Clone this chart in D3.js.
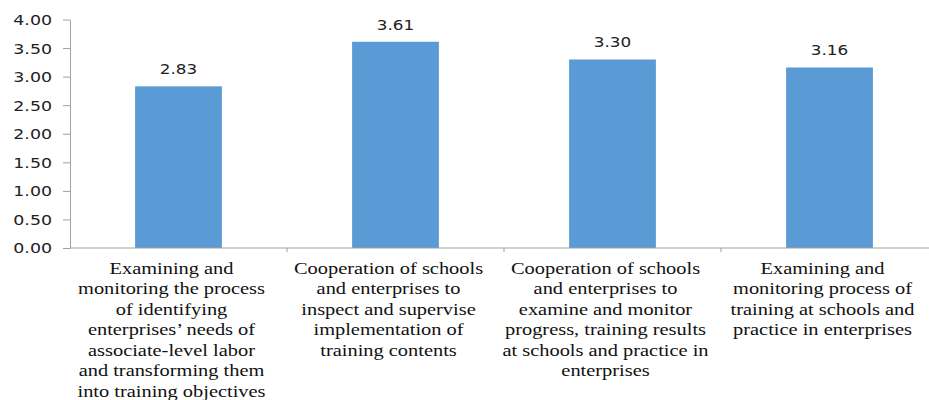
<!DOCTYPE html>
<html>
<head>
<meta charset="utf-8">
<script src="https://cdn.jsdelivr.net/npm/d3@7"></script>
<style>
  html, body { margin: 0; padding: 0; background: #fff; }
  svg { display: block; }
</style>
</head>
<body>
<div id="chart"></div>
<script>
const categories = ["C1", "C2", "C3", "C4"];
const categoryLabels = [
  ["Examining and", "monitoring the process", "of identifying", "enterprises\u2019 needs of", "associate-level labor", "and transforming them", "into training objectives"],
  ["Cooperation of schools", "and enterprises to", "inspect and supervise", "implementation of", "training contents"],
  ["Cooperation of schools", "and enterprises to", "examine and monitor", "progress, training results", "at schools and practice in", "enterprises"],
  ["Examining and", "monitoring process of", "training at schools and", "practice in enterprises"]
];
const values = [2.83, 3.61, 3.30, 3.16];
const yTicks = [0, 0.5, 1, 1.5, 2, 2.5, 3, 3.5, 4];

const W = 929, H = 400;
const stretch = 1.2;
const svg = d3.select("#chart").append("svg").attr("width", W).attr("height", H);

const x = d3.scaleBand().domain(categories).range([70, 938]).padding(0);
const y = d3.scaleLinear().domain([0, 4]).range([248, 19.5]);

const axisColor = "#a0a0a0";

// Bars
const bw = x.bandwidth() * 0.4;
svg.append("g").selectAll("rect").data(values).join("rect")
  .attr("x", (d, i) => x(categories[i]) + x.bandwidth() / 2 - bw / 2)
  .attr("y", d => y(d))
  .attr("width", bw)
  .attr("height", d => y(0) - y(d))
  .attr("fill", "#5B9BD5");

// Value labels
svg.append("g").selectAll("g").data(values).join("g")
  .attr("transform", (d, i) => `translate(${x(categories[i]) + x.bandwidth() / 2},${y(d) - 12}) scale(${stretch},1)`)
  .append("text")
  .attr("text-anchor", "middle")
  .attr("font-family", "DejaVu Sans, sans-serif")
  .attr("font-size", 14)
  .attr("fill", "#222")
  .text(d => d.toFixed(2));

// Y axis
const yAxis = svg.append("g").attr("transform", `translate(70,0)`)
  .call(d3.axisLeft(y).tickValues(yTicks).tickFormat(d3.format(".2f")).tickSize(7).tickSizeOuter(0));
yAxis.select(".domain").attr("stroke", axisColor);
yAxis.selectAll(".tick line").attr("stroke", axisColor);
yAxis.selectAll(".tick text")
  .attr("x", 0).attr("dy", null)
  .attr("dominant-baseline", "central")
  .attr("transform", `translate(-18,0) scale(${stretch},1)`)
  .attr("font-family", "DejaVu Sans, sans-serif")
  .attr("font-size", 14.5)
  .attr("fill", "#222");

// X baseline
svg.append("line")
  .attr("x1", 70).attr("x2", W)
  .attr("y1", y(0)).attr("y2", y(0))
  .attr("stroke", axisColor);
// Category boundary ticks
svg.append("g").selectAll("line").data(categories.slice(1)).join("line")
  .attr("x1", d => x(d)).attr("x2", d => x(d))
  .attr("y1", y(0)).attr("y2", y(0) + 4)
  .attr("stroke", axisColor);

// Category labels
const lineH = 20.5;
const labG = svg.append("g").selectAll("g").data(categoryLabels).join("g")
  .attr("transform", (d, i) => `translate(${x(categories[i]) + x.bandwidth() / 2 - 7},274) scale(${stretch},1)`);
labG.append("text")
  .attr("text-anchor", "middle")
  .attr("font-family", "Liberation Serif, Times New Roman, serif")
  .attr("font-size", 17)
  .attr("fill", "#111")
  .selectAll("tspan").data(d => d).join("tspan")
  .attr("x", 0)
  .attr("y", (d, j) => j * lineH)
  .text(d => d);
</script>
</body>
</html>
